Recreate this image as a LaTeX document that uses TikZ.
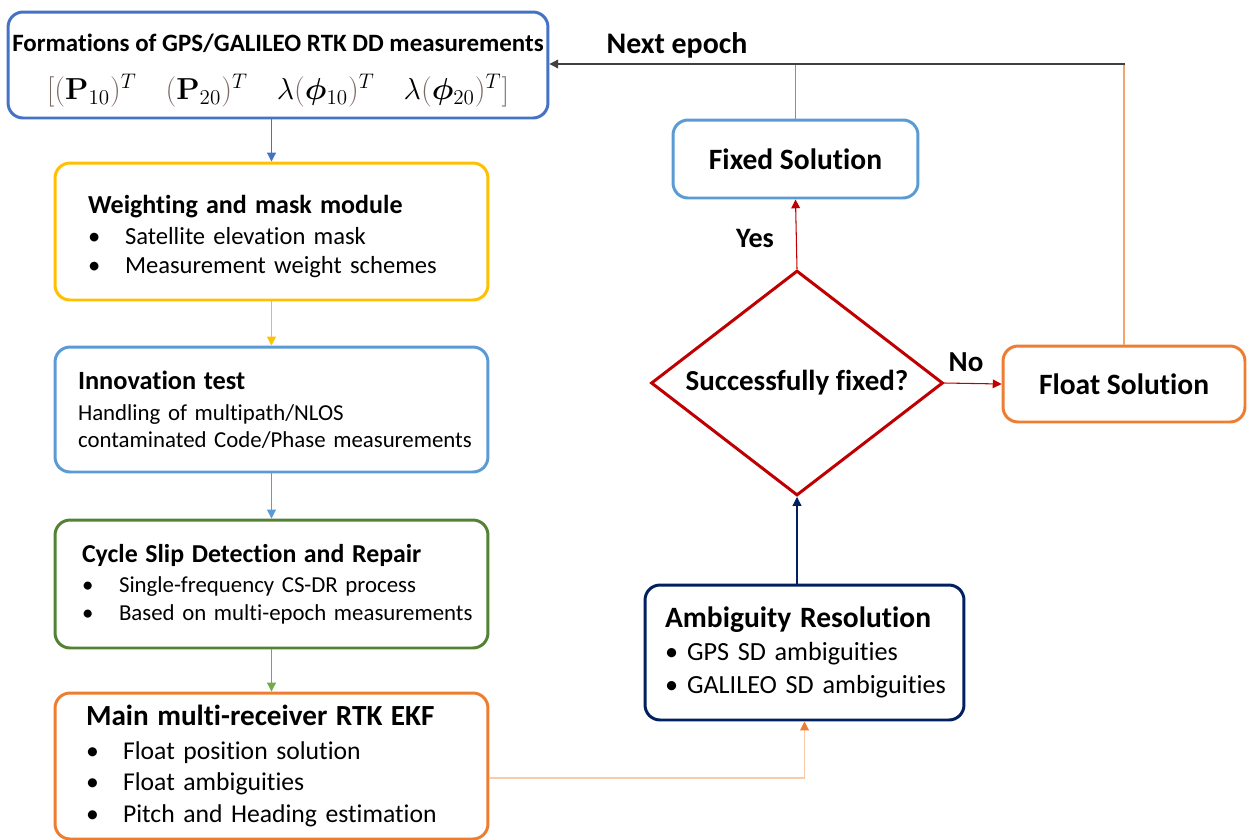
\documentclass[tikz,border=0pt]{standalone}
\usepackage[no-math]{fontspec}
\setmainfont{Carlito}[Ligatures=NoCommon]
\usepackage{amsmath}
\usepackage{bm}
\usepackage{xcolor}
\usetikzlibrary{positioning}
\usetikzlibrary{shapes}
\usetikzlibrary{arrows.meta}

\definecolor{fblue}{HTML}{4472C4}
\definecolor{fyellow}{HTML}{FFC000}
\definecolor{flblue}{HTML}{5B9BD5}
\definecolor{fgreen}{HTML}{548235}
\definecolor{flgreen}{HTML}{70AD47}
\definecolor{forange}{HTML}{ED7D31}
\definecolor{fpeach}{HTML}{F8CBAD}
\definecolor{fred}{HTML}{C00000}
\definecolor{fnavy}{HTML}{002060}
\definecolor{brk}{RGB}{125,105,100}

\newcommand{\itm}[2][0.74cm]{\mbox{\makebox[#1][l]{\textbullet}#2}}

\begin{document}
\begin{tikzpicture}[x=0.02cm, y=-0.02cm,
    box/.style={draw, rounded corners=0.3cm, line width=1.7pt, fill=white},
    lbox/.style={box, align=left, inner ysep=0pt},
    ar/.style={-{Triangle[length=5pt,width=5pt]}, line width=0.6pt},
    lbl/.style={font=\bfseries\fontsize{17}{19}\selectfont}]
    \useasboundingbox (0,0) rectangle (1247,839);

    \node[box, draw=fblue, minimum width=10.8cm, minimum height=2.12cm, align=center, inner sep=0pt] (form) at (278,65)
        {\bfseries\fontsize{14.2}{16}\selectfont\rule{0pt}{16pt}Formations of GPS/GALILEO RTK DD measurements\\[11.5pt]
        \fontsize{16.5}{19}\selectfont $\textcolor{brk}{[(}\mathbf{P}_{10}\textcolor{brk}{)}^T\quad
        \textcolor{brk}{(}\mathbf{P}_{20}\textcolor{brk}{)}^T\quad
        \lambda\textcolor{brk}{(}\bm{\phi}_{10}\textcolor{brk}{)}^T\quad
        \lambda\textcolor{brk}{(}\bm{\phi}_{20}\textcolor{brk}{)}^T\textcolor{brk}{]}$};
    \node[lbox, draw=fyellow, minimum width=8.66cm, minimum height=2.74cm, text width=7.34cm, inner xsep=0.66cm,
        font=\fontsize{14}{16.5}\selectfont] (weight) at (271.5,231.5)
        {\rule{0pt}{16pt}{\bfseries\fontsize{14.8}{16.5}\selectfont Weighting and mask module}\\[1pt]
        \itm{Satellite elevation mask}\\
        \itm{Measurement weight schemes}};
    \node[lbox, draw=flblue, minimum width=8.66cm, minimum height=2.5cm, text width=7.74cm, inner xsep=0.46cm,
        font=\fontsize{13}{15.5}\selectfont] (innov) at (271.5,409.5)
        {{\bfseries\fontsize{15}{15.5}\selectfont Innovation test}\\[2pt]
        \mbox{Handling of multipath/NLOS}\\
        \mbox{contaminated Code/Phase measurements}};
    \node[lbox, draw=fgreen, minimum width=8.66cm, minimum height=2.56cm, text width=7.58cm, inner xsep=0.54cm,
        font=\fontsize{13}{15.5}\selectfont] (cycle) at (271.5,584)
        {{\bfseries\fontsize{14.7}{15.5}\selectfont Cycle Slip Detection and Repair}\\[2pt]
        \itm{Single-frequency CS-DR process}\\
        \itm{Based on multi-epoch measurements}};
    \node[lbox, draw=forange, minimum width=8.66cm, minimum height=2.92cm, text width=7.42cm, inner xsep=0.62cm,
        font=\fontsize{14.6}{18}\selectfont] (ekf) at (271.5,766)
        {{\bfseries\fontsize{16.6}{18}\selectfont Main multi-receiver RTK EKF}\\[1pt]
        \itm{Float position solution}\\
        \itm{Float ambiguities}\\
        \itm{Pitch and Heading estimation}};
    \node[lbox, draw=fnavy, minimum width=6.38cm, minimum height=2.7cm, text width=5.58cm, inner xsep=0.4cm,
        font=\fontsize{14.9}{18.7}\selectfont] (amb) at (804.5,652.5)
        {{\bfseries\fontsize{16.8}{18.7}\selectfont Ambiguity Resolution}\\
        \itm[0.44cm]{GPS SD ambiguities}\\
        \itm[0.44cm]{GALILEO SD ambiguities}};
    \node[box, draw=flblue, minimum width=4.9cm, minimum height=1.56cm, font=\bfseries\fontsize{16.8}{18}\selectfont] (fixed) at (795.5,159) {Fixed Solution};
    \node[draw=fred, line width=1.7pt, diamond, aspect=1.3, inner sep=0pt, minimum width=5.84cm, minimum height=4.5cm,
        font=\bfseries\fontsize{16.5}{18}\selectfont] (dia) at (797,383) {Successfully fixed?};
    \node[box, draw=forange, minimum width=4.84cm, minimum height=1.52cm, font=\bfseries\fontsize{16.8}{18}\selectfont] (float) at (1124,384) {Float Solution};

    \node[lbl] (next) at (677,45) {Next epoch};
    \node[lbl, font=\bfseries\fontsize{16}{18}\selectfont] (yes) at (755,238) {Yes};
    \node[lbl, font=\bfseries\fontsize{16.5}{18}\selectfont] (no) at (966,362) {No};
    \coordinate (top) at (1125,64);

    % vertical chain on the left
    \draw[ar, fblue] (form.south -| weight.north) -- (weight.north);
    \draw[ar, fyellow] (weight) -- (innov);
    \draw[ar, flblue] (innov) -- (cycle);
    \draw[ar, flgreen] (cycle) -- (ekf);
    % right side
    \draw[ar, fpeach, -{Triangle[length=5pt,width=5pt,color=forange]}] ([yshift=-0.24cm]ekf.east) -| (amb.south);
    \draw[ar, fnavy] (dia.south |- amb.north) -- (dia.south);
    \draw[ar, fred] (dia.north) -- (fixed.south);
    \draw[ar, fred] (dia.east) -- (float.west);
    % back to the next epoch
    \draw[flblue, line width=0.6pt] (fixed.north) -- (fixed.north |- top);
    \draw[forange!70!white, line width=0.6pt] (float.north) -- (float.north |- top);
    \draw[ar, black!75] (top) -- (form.east |- top);
\end{tikzpicture}
\end{document}
